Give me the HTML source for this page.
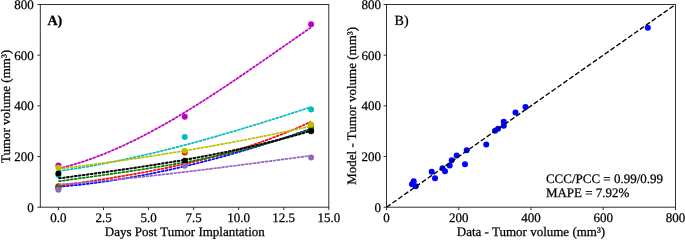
<!DOCTYPE html>
<html><head><meta charset="utf-8"><title>Tumor volume</title>
<style>
html,body{margin:0;padding:0;background:#fff;}
body{width:685px;height:240px;overflow:hidden;font-family:"Liberation Serif", serif;}
svg{display:block;will-change:transform;}
text{font-family:"Liberation Serif", serif;fill:#000;text-rendering:geometricPrecision;stroke:#000;stroke-width:0.25px;}
.tk{font-size:13px;}
.lb{font-size:13px;}
</style></head><body>
<svg width="685" height="240" viewBox="0 0 685 240">
<rect x="0" y="0" width="685" height="240" fill="#ffffff"/>
<g id="panelA">
<circle cx="58.40" cy="187.00" r="3" fill="#0000ff"/>
<circle cx="184.75" cy="162.70" r="3" fill="#0000ff"/>
<circle cx="311.10" cy="129.75" r="3" fill="#0000ff"/>
<path d="M58.40 186.79 L62.91 186.41 L67.42 185.99 L71.94 185.55 L76.45 185.08 L80.96 184.58 L85.47 184.06 L89.99 183.51 L94.50 182.94 L99.01 182.34 L103.53 181.71 L108.04 181.06 L112.55 180.39 L117.06 179.68 L121.58 178.96 L126.09 178.21 L130.60 177.43 L135.11 176.64 L139.62 175.81 L144.14 174.97 L148.65 174.10 L153.16 173.20 L157.68 172.29 L162.19 171.35 L166.70 170.38 L171.21 169.40 L175.72 168.39 L180.24 167.36 L184.75 166.31 L189.26 165.23 L193.78 164.14 L198.29 163.02 L202.80 161.88 L207.31 160.72 L211.83 159.54 L216.34 158.33 L220.85 157.11 L225.36 155.87 L229.88 154.60 L234.39 153.32 L238.90 152.02 L243.41 150.69 L247.93 149.35 L252.44 147.98 L256.95 146.60 L261.46 145.20 L265.98 143.78 L270.49 142.34 L275.00 140.89 L279.51 139.41 L284.02 137.92 L288.54 136.41 L293.05 134.88 L297.56 133.33 L302.07 131.77 L306.59 130.19 L311.10 128.59" fill="none" stroke="#0000ff" stroke-width="1.3" stroke-opacity="0.4"/>
<path d="M58.40 186.79 L62.91 186.41 L67.42 185.99 L71.94 185.55 L76.45 185.08 L80.96 184.58 L85.47 184.06 L89.99 183.51 L94.50 182.94 L99.01 182.34 L103.53 181.71 L108.04 181.06 L112.55 180.39 L117.06 179.68 L121.58 178.96 L126.09 178.21 L130.60 177.43 L135.11 176.64 L139.62 175.81 L144.14 174.97 L148.65 174.10 L153.16 173.20 L157.68 172.29 L162.19 171.35 L166.70 170.38 L171.21 169.40 L175.72 168.39 L180.24 167.36 L184.75 166.31 L189.26 165.23 L193.78 164.14 L198.29 163.02 L202.80 161.88 L207.31 160.72 L211.83 159.54 L216.34 158.33 L220.85 157.11 L225.36 155.87 L229.88 154.60 L234.39 153.32 L238.90 152.02 L243.41 150.69 L247.93 149.35 L252.44 147.98 L256.95 146.60 L261.46 145.20 L265.98 143.78 L270.49 142.34 L275.00 140.89 L279.51 139.41 L284.02 137.92 L288.54 136.41 L293.05 134.88 L297.56 133.33 L302.07 131.77 L306.59 130.19 L311.10 128.59" fill="none" stroke="#0000ff" stroke-width="1.65" stroke-dasharray="3 1"/>
<circle cx="58.40" cy="186.30" r="3" fill="#ff0000"/>
<circle cx="184.75" cy="152.50" r="3" fill="#ff0000"/>
<circle cx="311.10" cy="124.90" r="3" fill="#ff0000"/>
<path d="M58.40 186.00 L62.91 185.34 L67.42 184.68 L71.94 184.01 L76.45 183.34 L80.96 182.66 L85.47 181.98 L89.99 181.30 L94.50 180.61 L99.01 179.90 L103.53 179.20 L108.04 178.48 L112.55 177.75 L117.06 177.00 L121.58 176.25 L126.09 175.48 L130.60 174.70 L135.11 173.91 L139.62 173.10 L144.14 172.27 L148.65 171.42 L153.16 170.56 L157.68 169.67 L162.19 168.77 L166.70 167.84 L171.21 166.89 L175.72 165.92 L180.24 164.93 L184.75 163.91 L189.26 162.86 L193.78 161.79 L198.29 160.69 L202.80 159.56 L207.31 158.41 L211.83 157.22 L216.34 156.00 L220.85 154.75 L225.36 153.47 L229.88 152.15 L234.39 150.80 L238.90 149.42 L243.41 147.99 L247.93 146.53 L252.44 145.04 L256.95 143.50 L261.46 141.92 L265.98 140.30 L270.49 138.65 L275.00 136.94 L279.51 135.20 L284.02 133.41 L288.54 131.57 L293.05 129.69 L297.56 127.77 L302.07 125.79 L306.59 123.77 L311.10 121.69" fill="none" stroke="#ff0000" stroke-width="1.3" stroke-opacity="0.4"/>
<path d="M58.40 186.00 L62.91 185.34 L67.42 184.68 L71.94 184.01 L76.45 183.34 L80.96 182.66 L85.47 181.98 L89.99 181.30 L94.50 180.61 L99.01 179.90 L103.53 179.20 L108.04 178.48 L112.55 177.75 L117.06 177.00 L121.58 176.25 L126.09 175.48 L130.60 174.70 L135.11 173.91 L139.62 173.10 L144.14 172.27 L148.65 171.42 L153.16 170.56 L157.68 169.67 L162.19 168.77 L166.70 167.84 L171.21 166.89 L175.72 165.92 L180.24 164.93 L184.75 163.91 L189.26 162.86 L193.78 161.79 L198.29 160.69 L202.80 159.56 L207.31 158.41 L211.83 157.22 L216.34 156.00 L220.85 154.75 L225.36 153.47 L229.88 152.15 L234.39 150.80 L238.90 149.42 L243.41 147.99 L247.93 146.53 L252.44 145.04 L256.95 143.50 L261.46 141.92 L265.98 140.30 L270.49 138.65 L275.00 136.94 L279.51 135.20 L284.02 133.41 L288.54 131.57 L293.05 129.69 L297.56 127.77 L302.07 125.79 L306.59 123.77 L311.10 121.69" fill="none" stroke="#ff0000" stroke-width="1.65" stroke-dasharray="3 1"/>
<circle cx="58.40" cy="187.90" r="3" fill="#008000"/>
<circle cx="184.75" cy="163.50" r="3" fill="#008000"/>
<circle cx="311.10" cy="128.75" r="3" fill="#008000"/>
<path d="M58.40 181.34 L62.91 180.70 L67.42 180.06 L71.94 179.43 L76.45 178.80 L80.96 178.17 L85.47 177.55 L89.99 176.92 L94.50 176.29 L99.01 175.67 L103.53 175.03 L108.04 174.40 L112.55 173.76 L117.06 173.12 L121.58 172.47 L126.09 171.81 L130.60 171.15 L135.11 170.48 L139.62 169.80 L144.14 169.10 L148.65 168.40 L153.16 167.69 L157.68 166.96 L162.19 166.23 L166.70 165.47 L171.21 164.71 L175.72 163.92 L180.24 163.12 L184.75 162.31 L189.26 161.47 L193.78 160.62 L198.29 159.74 L202.80 158.85 L207.31 157.93 L211.83 157.00 L216.34 156.03 L220.85 155.05 L225.36 154.04 L229.88 153.00 L234.39 151.94 L238.90 150.85 L243.41 149.73 L247.93 148.59 L252.44 147.41 L256.95 146.20 L261.46 144.97 L265.98 143.70 L270.49 142.39 L275.00 141.05 L279.51 139.68 L284.02 138.27 L288.54 136.83 L293.05 135.35 L297.56 133.83 L302.07 132.27 L306.59 130.67 L311.10 129.04" fill="none" stroke="#008000" stroke-width="1.3" stroke-opacity="0.4"/>
<path d="M58.40 181.34 L62.91 180.70 L67.42 180.06 L71.94 179.43 L76.45 178.80 L80.96 178.17 L85.47 177.55 L89.99 176.92 L94.50 176.29 L99.01 175.67 L103.53 175.03 L108.04 174.40 L112.55 173.76 L117.06 173.12 L121.58 172.47 L126.09 171.81 L130.60 171.15 L135.11 170.48 L139.62 169.80 L144.14 169.10 L148.65 168.40 L153.16 167.69 L157.68 166.96 L162.19 166.23 L166.70 165.47 L171.21 164.71 L175.72 163.92 L180.24 163.12 L184.75 162.31 L189.26 161.47 L193.78 160.62 L198.29 159.74 L202.80 158.85 L207.31 157.93 L211.83 157.00 L216.34 156.03 L220.85 155.05 L225.36 154.04 L229.88 153.00 L234.39 151.94 L238.90 150.85 L243.41 149.73 L247.93 148.59 L252.44 147.41 L256.95 146.20 L261.46 144.97 L265.98 143.70 L270.49 142.39 L275.00 141.05 L279.51 139.68 L284.02 138.27 L288.54 136.83 L293.05 135.35 L297.56 133.83 L302.07 132.27 L306.59 130.67 L311.10 129.04" fill="none" stroke="#008000" stroke-width="1.65" stroke-dasharray="3 1"/>
<circle cx="58.40" cy="175.00" r="3" fill="#00bfbf"/>
<circle cx="184.75" cy="137.00" r="3" fill="#00bfbf"/>
<circle cx="311.10" cy="109.40" r="3" fill="#00bfbf"/>
<path d="M58.40 171.08 L62.91 170.45 L67.42 169.79 L71.94 169.11 L76.45 168.41 L80.96 167.68 L85.47 166.93 L89.99 166.15 L94.50 165.35 L99.01 164.53 L103.53 163.68 L108.04 162.81 L112.55 161.93 L117.06 161.02 L121.58 160.08 L126.09 159.13 L130.60 158.16 L135.11 157.17 L139.62 156.16 L144.14 155.13 L148.65 154.08 L153.16 153.01 L157.68 151.93 L162.19 150.82 L166.70 149.70 L171.21 148.57 L175.72 147.41 L180.24 146.24 L184.75 145.06 L189.26 143.86 L193.78 142.64 L198.29 141.41 L202.80 140.17 L207.31 138.91 L211.83 137.64 L216.34 136.35 L220.85 135.06 L225.36 133.75 L229.88 132.42 L234.39 131.09 L238.90 129.75 L243.41 128.39 L247.93 127.02 L252.44 125.65 L256.95 124.26 L261.46 122.87 L265.98 121.46 L270.49 120.05 L275.00 118.63 L279.51 117.20 L284.02 115.76 L288.54 114.32 L293.05 112.87 L297.56 111.41 L302.07 109.95 L306.59 108.48 L311.10 107.01" fill="none" stroke="#00bfbf" stroke-width="1.3" stroke-opacity="0.4"/>
<path d="M58.40 171.08 L62.91 170.45 L67.42 169.79 L71.94 169.11 L76.45 168.41 L80.96 167.68 L85.47 166.93 L89.99 166.15 L94.50 165.35 L99.01 164.53 L103.53 163.68 L108.04 162.81 L112.55 161.93 L117.06 161.02 L121.58 160.08 L126.09 159.13 L130.60 158.16 L135.11 157.17 L139.62 156.16 L144.14 155.13 L148.65 154.08 L153.16 153.01 L157.68 151.93 L162.19 150.82 L166.70 149.70 L171.21 148.57 L175.72 147.41 L180.24 146.24 L184.75 145.06 L189.26 143.86 L193.78 142.64 L198.29 141.41 L202.80 140.17 L207.31 138.91 L211.83 137.64 L216.34 136.35 L220.85 135.06 L225.36 133.75 L229.88 132.42 L234.39 131.09 L238.90 129.75 L243.41 128.39 L247.93 127.02 L252.44 125.65 L256.95 124.26 L261.46 122.87 L265.98 121.46 L270.49 120.05 L275.00 118.63 L279.51 117.20 L284.02 115.76 L288.54 114.32 L293.05 112.87 L297.56 111.41 L302.07 109.95 L306.59 108.48 L311.10 107.01" fill="none" stroke="#00bfbf" stroke-width="1.65" stroke-dasharray="3 1"/>
<circle cx="58.40" cy="165.40" r="3" fill="#bf00bf"/>
<circle cx="184.75" cy="116.75" r="3" fill="#bf00bf"/>
<circle cx="311.10" cy="24.20" r="3" fill="#bf00bf"/>
<path d="M58.40 168.57 L62.91 167.47 L67.42 166.29 L71.94 165.03 L76.45 163.69 L80.96 162.28 L85.47 160.79 L89.99 159.22 L94.50 157.59 L99.01 155.88 L103.53 154.11 L108.04 152.26 L112.55 150.36 L117.06 148.39 L121.58 146.36 L126.09 144.26 L130.60 142.11 L135.11 139.90 L139.62 137.64 L144.14 135.33 L148.65 132.96 L153.16 130.54 L157.68 128.07 L162.19 125.56 L166.70 123.00 L171.21 120.40 L175.72 117.76 L180.24 115.07 L184.75 112.35 L189.26 109.59 L193.78 106.80 L198.29 103.97 L202.80 101.11 L207.31 98.23 L211.83 95.31 L216.34 92.36 L220.85 89.40 L225.36 86.40 L229.88 83.39 L234.39 80.36 L238.90 77.30 L243.41 74.23 L247.93 71.15 L252.44 68.05 L256.95 64.94 L261.46 61.83 L265.98 58.70 L270.49 55.56 L275.00 52.43 L279.51 49.28 L284.02 46.14 L288.54 43.00 L293.05 39.85 L297.56 36.72 L302.07 33.58 L306.59 30.46 L311.10 27.34" fill="none" stroke="#bf00bf" stroke-width="1.3" stroke-opacity="0.4"/>
<path d="M58.40 168.57 L62.91 167.47 L67.42 166.29 L71.94 165.03 L76.45 163.69 L80.96 162.28 L85.47 160.79 L89.99 159.22 L94.50 157.59 L99.01 155.88 L103.53 154.11 L108.04 152.26 L112.55 150.36 L117.06 148.39 L121.58 146.36 L126.09 144.26 L130.60 142.11 L135.11 139.90 L139.62 137.64 L144.14 135.33 L148.65 132.96 L153.16 130.54 L157.68 128.07 L162.19 125.56 L166.70 123.00 L171.21 120.40 L175.72 117.76 L180.24 115.07 L184.75 112.35 L189.26 109.59 L193.78 106.80 L198.29 103.97 L202.80 101.11 L207.31 98.23 L211.83 95.31 L216.34 92.36 L220.85 89.40 L225.36 86.40 L229.88 83.39 L234.39 80.36 L238.90 77.30 L243.41 74.23 L247.93 71.15 L252.44 68.05 L256.95 64.94 L261.46 61.83 L265.98 58.70 L270.49 55.56 L275.00 52.43 L279.51 49.28 L284.02 46.14 L288.54 43.00 L293.05 39.85 L297.56 36.72 L302.07 33.58 L306.59 30.46 L311.10 27.34" fill="none" stroke="#bf00bf" stroke-width="1.65" stroke-dasharray="3 1"/>
<circle cx="58.40" cy="167.80" r="3" fill="#bfbf00"/>
<circle cx="184.75" cy="150.80" r="3" fill="#bfbf00"/>
<circle cx="311.10" cy="124.75" r="3" fill="#bfbf00"/>
<path d="M58.40 168.82 L62.91 168.28 L67.42 167.73 L71.94 167.17 L76.45 166.60 L80.96 166.03 L85.47 165.45 L89.99 164.86 L94.50 164.26 L99.01 163.66 L103.53 163.05 L108.04 162.43 L112.55 161.81 L117.06 161.17 L121.58 160.53 L126.09 159.88 L130.60 159.22 L135.11 158.56 L139.62 157.88 L144.14 157.20 L148.65 156.51 L153.16 155.82 L157.68 155.11 L162.19 154.40 L166.70 153.68 L171.21 152.95 L175.72 152.21 L180.24 151.46 L184.75 150.71 L189.26 149.95 L193.78 149.18 L198.29 148.40 L202.80 147.61 L207.31 146.82 L211.83 146.01 L216.34 145.20 L220.85 144.38 L225.36 143.55 L229.88 142.72 L234.39 141.87 L238.90 141.02 L243.41 140.15 L247.93 139.28 L252.44 138.40 L256.95 137.51 L261.46 136.61 L265.98 135.71 L270.49 134.79 L275.00 133.87 L279.51 132.94 L284.02 131.99 L288.54 131.04 L293.05 130.09 L297.56 129.12 L302.07 128.14 L306.59 127.15 L311.10 126.16" fill="none" stroke="#bfbf00" stroke-width="1.3" stroke-opacity="0.4"/>
<path d="M58.40 168.82 L62.91 168.28 L67.42 167.73 L71.94 167.17 L76.45 166.60 L80.96 166.03 L85.47 165.45 L89.99 164.86 L94.50 164.26 L99.01 163.66 L103.53 163.05 L108.04 162.43 L112.55 161.81 L117.06 161.17 L121.58 160.53 L126.09 159.88 L130.60 159.22 L135.11 158.56 L139.62 157.88 L144.14 157.20 L148.65 156.51 L153.16 155.82 L157.68 155.11 L162.19 154.40 L166.70 153.68 L171.21 152.95 L175.72 152.21 L180.24 151.46 L184.75 150.71 L189.26 149.95 L193.78 149.18 L198.29 148.40 L202.80 147.61 L207.31 146.82 L211.83 146.01 L216.34 145.20 L220.85 144.38 L225.36 143.55 L229.88 142.72 L234.39 141.87 L238.90 141.02 L243.41 140.15 L247.93 139.28 L252.44 138.40 L256.95 137.51 L261.46 136.61 L265.98 135.71 L270.49 134.79 L275.00 133.87 L279.51 132.94 L284.02 131.99 L288.54 131.04 L293.05 130.09 L297.56 129.12 L302.07 128.14 L306.59 127.15 L311.10 126.16" fill="none" stroke="#bfbf00" stroke-width="1.65" stroke-dasharray="3 1"/>
<circle cx="58.40" cy="173.40" r="3" fill="#000000"/>
<circle cx="184.75" cy="160.80" r="3" fill="#000000"/>
<circle cx="311.10" cy="131.25" r="3" fill="#000000"/>
<path d="M58.40 178.42 L62.91 177.82 L67.42 177.22 L71.94 176.61 L76.45 176.00 L80.96 175.39 L85.47 174.78 L89.99 174.17 L94.50 173.55 L99.01 172.92 L103.53 172.30 L108.04 171.67 L112.55 171.03 L117.06 170.39 L121.58 169.74 L126.09 169.08 L130.60 168.42 L135.11 167.75 L139.62 167.07 L144.14 166.39 L148.65 165.69 L153.16 164.99 L157.68 164.27 L162.19 163.55 L166.70 162.81 L171.21 162.07 L175.72 161.31 L180.24 160.54 L184.75 159.75 L189.26 158.96 L193.78 158.15 L198.29 157.32 L202.80 156.49 L207.31 155.63 L211.83 154.77 L216.34 153.88 L220.85 152.98 L225.36 152.07 L229.88 151.13 L234.39 150.18 L238.90 149.21 L243.41 148.22 L247.93 147.21 L252.44 146.19 L256.95 145.14 L261.46 144.07 L265.98 142.99 L270.49 141.88 L275.00 140.75 L279.51 139.59 L284.02 138.42 L288.54 137.22 L293.05 136.00 L297.56 134.75 L302.07 133.48 L306.59 132.19 L311.10 130.86" fill="none" stroke="#000000" stroke-width="1.3" stroke-opacity="0.4"/>
<path d="M58.40 178.42 L62.91 177.82 L67.42 177.22 L71.94 176.61 L76.45 176.00 L80.96 175.39 L85.47 174.78 L89.99 174.17 L94.50 173.55 L99.01 172.92 L103.53 172.30 L108.04 171.67 L112.55 171.03 L117.06 170.39 L121.58 169.74 L126.09 169.08 L130.60 168.42 L135.11 167.75 L139.62 167.07 L144.14 166.39 L148.65 165.69 L153.16 164.99 L157.68 164.27 L162.19 163.55 L166.70 162.81 L171.21 162.07 L175.72 161.31 L180.24 160.54 L184.75 159.75 L189.26 158.96 L193.78 158.15 L198.29 157.32 L202.80 156.49 L207.31 155.63 L211.83 154.77 L216.34 153.88 L220.85 152.98 L225.36 152.07 L229.88 151.13 L234.39 150.18 L238.90 149.21 L243.41 148.22 L247.93 147.21 L252.44 146.19 L256.95 145.14 L261.46 144.07 L265.98 142.99 L270.49 141.88 L275.00 140.75 L279.51 139.59 L284.02 138.42 L288.54 137.22 L293.05 136.00 L297.56 134.75 L302.07 133.48 L306.59 132.19 L311.10 130.86" fill="none" stroke="#000000" stroke-width="1.9" stroke-dasharray="3 1"/>
<circle cx="58.40" cy="189.70" r="3" fill="#9467bd"/>
<circle cx="184.75" cy="165.80" r="3" fill="#9467bd"/>
<circle cx="311.10" cy="157.50" r="3" fill="#9467bd"/>
<path d="M58.40 184.53 L62.91 184.19 L67.42 183.84 L71.94 183.49 L76.45 183.12 L80.96 182.74 L85.47 182.36 L89.99 181.96 L94.50 181.56 L99.01 181.15 L103.53 180.73 L108.04 180.30 L112.55 179.87 L117.06 179.42 L121.58 178.97 L126.09 178.52 L130.60 178.05 L135.11 177.58 L139.62 177.10 L144.14 176.62 L148.65 176.12 L153.16 175.63 L157.68 175.12 L162.19 174.61 L166.70 174.10 L171.21 173.57 L175.72 173.05 L180.24 172.52 L184.75 171.98 L189.26 171.44 L193.78 170.89 L198.29 170.34 L202.80 169.78 L207.31 169.23 L211.83 168.66 L216.34 168.10 L220.85 167.52 L225.36 166.95 L229.88 166.37 L234.39 165.79 L238.90 165.21 L243.41 164.62 L247.93 164.04 L252.44 163.44 L256.95 162.85 L261.46 162.26 L265.98 161.66 L270.49 161.06 L275.00 160.46 L279.51 159.86 L284.02 159.26 L288.54 158.66 L293.05 158.05 L297.56 157.45 L302.07 156.84 L306.59 156.24 L311.10 155.63" fill="none" stroke="#9467bd" stroke-width="1.3" stroke-opacity="0.4"/>
<path d="M58.40 184.53 L62.91 184.19 L67.42 183.84 L71.94 183.49 L76.45 183.12 L80.96 182.74 L85.47 182.36 L89.99 181.96 L94.50 181.56 L99.01 181.15 L103.53 180.73 L108.04 180.30 L112.55 179.87 L117.06 179.42 L121.58 178.97 L126.09 178.52 L130.60 178.05 L135.11 177.58 L139.62 177.10 L144.14 176.62 L148.65 176.12 L153.16 175.63 L157.68 175.12 L162.19 174.61 L166.70 174.10 L171.21 173.57 L175.72 173.05 L180.24 172.52 L184.75 171.98 L189.26 171.44 L193.78 170.89 L198.29 170.34 L202.80 169.78 L207.31 169.23 L211.83 168.66 L216.34 168.10 L220.85 167.52 L225.36 166.95 L229.88 166.37 L234.39 165.79 L238.90 165.21 L243.41 164.62 L247.93 164.04 L252.44 163.44 L256.95 162.85 L261.46 162.26 L265.98 161.66 L270.49 161.06 L275.00 160.46 L279.51 159.86 L284.02 159.26 L288.54 158.66 L293.05 158.05 L297.56 157.45 L302.07 156.84 L306.59 156.24 L311.10 155.63" fill="none" stroke="#9467bd" stroke-width="1.65" stroke-dasharray="3 1"/>
</g>
<g id="panelB">
<circle cx="413.70" cy="181.20" r="3" fill="#0000ff"/>
<circle cx="412.00" cy="184.20" r="3" fill="#0000ff"/>
<circle cx="415.80" cy="186.20" r="3" fill="#0000ff"/>
<circle cx="431.70" cy="171.70" r="3" fill="#0000ff"/>
<circle cx="435.00" cy="178.30" r="3" fill="#0000ff"/>
<circle cx="442.50" cy="168.30" r="3" fill="#0000ff"/>
<circle cx="445.00" cy="171.30" r="3" fill="#0000ff"/>
<circle cx="449.70" cy="165.50" r="3" fill="#0000ff"/>
<circle cx="451.70" cy="160.30" r="3" fill="#0000ff"/>
<circle cx="456.70" cy="155.50" r="3" fill="#0000ff"/>
<circle cx="465.00" cy="164.20" r="3" fill="#0000ff"/>
<circle cx="466.70" cy="150.30" r="3" fill="#0000ff"/>
<circle cx="486.25" cy="144.50" r="3" fill="#0000ff"/>
<circle cx="495.00" cy="130.75" r="3" fill="#0000ff"/>
<circle cx="498.00" cy="128.75" r="3" fill="#0000ff"/>
<circle cx="503.75" cy="125.75" r="3" fill="#0000ff"/>
<circle cx="503.75" cy="121.75" r="3" fill="#0000ff"/>
<circle cx="515.50" cy="112.50" r="3" fill="#0000ff"/>
<circle cx="525.50" cy="107.00" r="3" fill="#0000ff"/>
<circle cx="647.80" cy="27.80" r="3" fill="#0000ff"/>
<path d="M386.50 207.20 L675.50 4.50" fill="none" stroke="#000" stroke-width="1.35" stroke-dasharray="5 2.2"/>
</g>
<rect x="40.30" y="4.50" width="288.50" height="202.70" fill="none" stroke="#262626" stroke-width="0.95"/>
<rect x="386.50" y="4.50" width="289.00" height="202.70" fill="none" stroke="#262626" stroke-width="0.95"/>
<line x1="58.45" y1="207.20" x2="58.45" y2="210.10" stroke="#262626" stroke-width="0.95"/>
<text class="tk" x="58.45" y="222.3" text-anchor="middle">0.0</text>
<line x1="103.51" y1="207.20" x2="103.51" y2="210.10" stroke="#262626" stroke-width="0.95"/>
<text class="tk" x="103.51" y="222.3" text-anchor="middle">2.5</text>
<line x1="148.56" y1="207.20" x2="148.56" y2="210.10" stroke="#262626" stroke-width="0.95"/>
<text class="tk" x="148.56" y="222.3" text-anchor="middle">5.0</text>
<line x1="193.62" y1="207.20" x2="193.62" y2="210.10" stroke="#262626" stroke-width="0.95"/>
<text class="tk" x="193.62" y="222.3" text-anchor="middle">7.5</text>
<line x1="238.68" y1="207.20" x2="238.68" y2="210.10" stroke="#262626" stroke-width="0.95"/>
<text class="tk" x="238.68" y="222.3" text-anchor="middle">10.0</text>
<line x1="283.74" y1="207.20" x2="283.74" y2="210.10" stroke="#262626" stroke-width="0.95"/>
<text class="tk" x="283.74" y="222.3" text-anchor="middle">12.5</text>
<line x1="328.79" y1="207.20" x2="328.79" y2="210.10" stroke="#262626" stroke-width="0.95"/>
<text class="tk" x="328.79" y="222.3" text-anchor="middle">15.0</text>
<line x1="37.40" y1="207.20" x2="40.30" y2="207.20" stroke="#262626" stroke-width="0.95"/>
<text class="tk" x="33.8" y="211.80" text-anchor="end">0</text>
<line x1="37.40" y1="156.52" x2="40.30" y2="156.52" stroke="#262626" stroke-width="0.95"/>
<text class="tk" x="33.8" y="161.12" text-anchor="end">200</text>
<line x1="37.40" y1="105.85" x2="40.30" y2="105.85" stroke="#262626" stroke-width="0.95"/>
<text class="tk" x="33.8" y="110.45" text-anchor="end">400</text>
<line x1="37.40" y1="55.17" x2="40.30" y2="55.17" stroke="#262626" stroke-width="0.95"/>
<text class="tk" x="33.8" y="59.77" text-anchor="end">600</text>
<line x1="37.40" y1="4.50" x2="40.30" y2="4.50" stroke="#262626" stroke-width="0.95"/>
<text class="tk" x="33.8" y="9.10" text-anchor="end">800</text>
<line x1="386.50" y1="207.20" x2="386.50" y2="210.10" stroke="#262626" stroke-width="0.95"/>
<text class="tk" x="386.50" y="222.3" text-anchor="middle">0</text>
<line x1="383.60" y1="207.20" x2="386.50" y2="207.20" stroke="#262626" stroke-width="0.95"/>
<text class="tk" x="381.0" y="211.80" text-anchor="end">0</text>
<line x1="458.75" y1="207.20" x2="458.75" y2="210.10" stroke="#262626" stroke-width="0.95"/>
<text class="tk" x="458.75" y="222.3" text-anchor="middle">200</text>
<line x1="383.60" y1="156.52" x2="386.50" y2="156.52" stroke="#262626" stroke-width="0.95"/>
<text class="tk" x="381.0" y="161.12" text-anchor="end">200</text>
<line x1="531.00" y1="207.20" x2="531.00" y2="210.10" stroke="#262626" stroke-width="0.95"/>
<text class="tk" x="531.00" y="222.3" text-anchor="middle">400</text>
<line x1="383.60" y1="105.85" x2="386.50" y2="105.85" stroke="#262626" stroke-width="0.95"/>
<text class="tk" x="381.0" y="110.45" text-anchor="end">400</text>
<line x1="603.25" y1="207.20" x2="603.25" y2="210.10" stroke="#262626" stroke-width="0.95"/>
<text class="tk" x="603.25" y="222.3" text-anchor="middle">600</text>
<line x1="383.60" y1="55.17" x2="386.50" y2="55.17" stroke="#262626" stroke-width="0.95"/>
<text class="tk" x="381.0" y="59.77" text-anchor="end">600</text>
<line x1="675.50" y1="207.20" x2="675.50" y2="210.10" stroke="#262626" stroke-width="0.95"/>
<text class="tk" x="675.50" y="222.3" text-anchor="middle">800</text>
<line x1="383.60" y1="4.50" x2="386.50" y2="4.50" stroke="#262626" stroke-width="0.95"/>
<text class="tk" x="381.0" y="9.10" text-anchor="end">800</text>
<text class="lb" x="184.85" y="236.3" text-anchor="middle">Days Post Tumor Implantation</text>
<text class="lb" x="531" y="236.3" text-anchor="middle">Data - Tumor volume (mm³)</text>
<text class="lb" transform="translate(9.6,106.5) rotate(-90)" text-anchor="middle">Tumor volume (mm³)</text>
<text class="lb" transform="translate(355.8,105.9) rotate(-90)" text-anchor="middle">Model - Tumor volume (mm³)</text>
<text x="47.5" y="25" font-size="14" font-weight="bold">A)</text>
<text x="394.6" y="25" font-size="14">B)</text>
<text x="545.9" y="183.4" font-size="13">CCC/PCC = 0.99/0.99</text>
<text x="545.9" y="197.4" font-size="13">MAPE = 7.92%</text>
</svg></body></html>
